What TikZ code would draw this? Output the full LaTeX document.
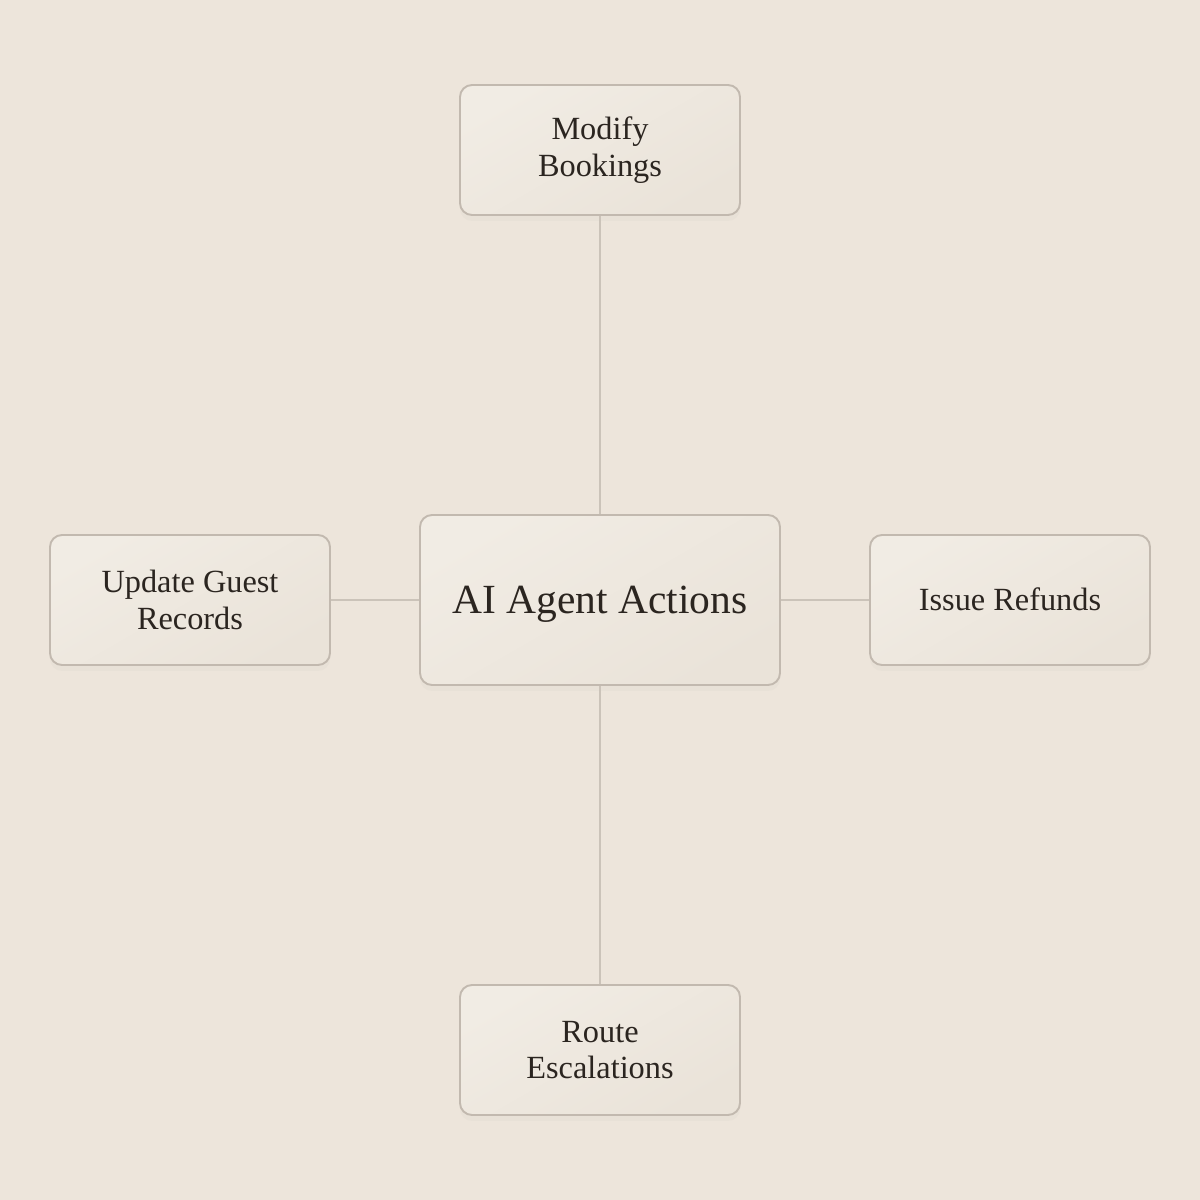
\documentclass[tikz,border=0pt]{standalone}
\usepackage{fontspec}
\setmainfont{Liberation Serif}
\usetikzlibrary{shadows}
\definecolor{bgcol}{HTML}{EDE5DB}
\definecolor{boxtop}{HTML}{F1ECE4}
\definecolor{boxbot}{HTML}{EAE3D9}
\definecolor{boxline}{HTML}{C2B9AF}
\definecolor{linkcol}{HTML}{CBC3B9}
\definecolor{inkcol}{HTML}{2B2520}
\tikzset{
	action/.style={draw=boxline, line width=0.55pt, rounded corners=0.12cm,
		top color=boxtop, bottom color=boxbot, shading angle=30,
		text=inkcol, align=center,
		minimum width=2.8cm, minimum height=1.3cm, inner sep=0pt,
		font=\fontsize{9.2}{10.4}\selectfont,
		drop shadow={opacity=0.04, shadow xshift=0cm, shadow yshift=-0.06cm}},
	hub/.style={action, minimum width=3.6cm, minimum height=1.7cm,
		text height=7.8pt, text depth=0pt,
		font=\fontsize{11.8}{14}\selectfont},
	link/.style={draw=linkcol, line width=0.5pt}
}
\begin{document}
\begin{tikzpicture}
			%%%%% START %%%%%
			
			\fill[bgcol] (0, 0) rectangle (12, 12);
			\useasboundingbox (0, 0) rectangle (12, 12);
			
			\node[hub] (agent) at (6, 6) {AI Agent Actions};
			
			\node[action] (modify) at (6, 10.5) {Modify\\Bookings};
			\node[action] (route) at (6, 1.5) {Route\\Escalations};
			\node[action] (guest) at (1.9, 6) {Update Guest\\Records};
			\node[action, text height=6pt, text depth=0pt] (refund) at (10.1, 6) {Issue Refunds};
			
			\draw[link] (agent.north) -- (modify.south);
			\draw[link] (agent.south) -- (route.north);
			\draw[link] (agent.west) -- (guest.east);
			\draw[link] (agent.east) -- (refund.west);
			
			%%%%% END %%%%%
\end{tikzpicture}
\end{document}
